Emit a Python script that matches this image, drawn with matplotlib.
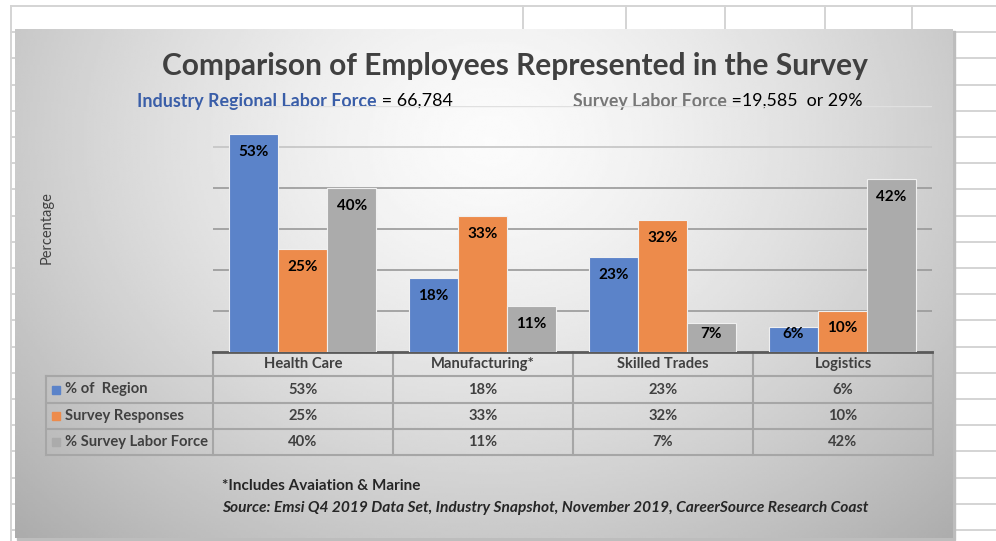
import numpy as np
import matplotlib
matplotlib.use('Agg')
import matplotlib.pyplot as plt
from matplotlib.patches import Rectangle

plt.rcParams['font.family'] = ['Lato', 'DejaVu Sans']

categories = ['Health Care', 'Manufacturing*', 'Skilled Trades', 'Logistics']
series_names = ['% of  Region', 'Survey Responses', '% Survey Labor Force']
pct_region = [53, 18, 23, 6]
survey_responses = [25, 33, 32, 10]
pct_survey_labor = [40, 11, 7, 42]
series_colors = ['#5b83c9', '#ed8b4b', '#ababab']

title = 'Comparison of Employees Represented in the Survey'
sub1_bold, sub1_rest = 'Industry Regional Labor Force', ' = 66,784'
sub2_bold, sub2_rest = 'Survey Labor Force', ' =19,585  or 29%'
note = '*Includes Avaiation & Marine'
source = 'Source: Emsi Q4 2019 Data Set, Industry Snapshot, November 2019, CareerSource Research Coast'

W, H = 996, 541
fig = plt.figure(figsize=(W / 100, H / 100), dpi=100)
bg = fig.add_axes([0, 0, 1, 1])
bg.axis('off')

# spreadsheet grid behind the chart
grid_c = '#d4d4d4'
for y in np.arange(6, H, 26.2):
    bg.plot([11, W], [y, y], color=grid_c, lw=1.4, zorder=0)
for x in [11, 523, 626, 725, 825, 912]:
    bg.plot([x, x], [6, H], color=grid_c, lw=1.4, zorder=0)

# chart area with radial grey gradient
x0, x1, y0, y1 = 15, 953, 29, 538
bg.add_patch(Rectangle((x0 + 2, y0 + 2), x1 - x0, y1 - y0, color='#bdbdbd', zorder=1))
xx, yy = np.meshgrid(np.linspace(x0, x1, 400), np.linspace(y0, y1, 220))
r = np.sqrt(((xx - 490) / 560) ** 2 + ((yy - 140) / 460) ** 2)
shade = 0.985 - 0.24 * np.clip(r, 0, 1.3) ** 1.4
bg.imshow(shade, cmap='gray', vmin=0, vmax=1, extent=(x0, x1, y1, y0),
          aspect='auto', interpolation='bilinear', zorder=2)
bg.set_xlim(0, W)
bg.set_ylim(H, 0)

# titles
dark = '#404040'
bg.text(515, 66, title, ha='center', va='center', fontsize=21.5,
        fontweight='bold', color=dark, zorder=5)
t1 = bg.text(137, 101, sub1_bold, ha='left', va='center', fontsize=12.9,
             fontweight='bold', color='#3a5ea8', zorder=5)
bg.annotate(sub1_rest, xy=(1, 0.5), xycoords=t1, ha='left', va='center',
            fontsize=12.9, color='black', zorder=5)
t2 = bg.text(573, 101, sub2_bold, ha='left', va='center', fontsize=12.8,
             fontweight='bold', color='#777777', zorder=5)
bg.annotate(sub2_rest, xy=(1, 0.5), xycoords=t2, ha='left', va='center',
            fontsize=12.8, color='black', zorder=5)

bg.text(47, 228, 'Percentage', rotation=90, ha='center', va='center',
        fontsize=10.5, color=dark, zorder=5)

# plot area
left, right, base, top = 213, 932, 351.5, 105.5
ax = fig.add_axes([left / W, 1 - base / H, (right - left) / W, (base - top) / H])
ax.set_xlim(-0.5, 3.5)
ax.set_ylim(0, 60)
ax.patch.set_alpha(0)
for s in ax.spines.values():
    s.set_visible(False)
ax.set_xticks([])
ax.set_yticks([])
ax.axhline(60, color='#e0e0e0', lw=1, zorder=1)
for g in [10, 20, 30, 40, 50]:
    ax.axhline(g, color='#999999' if g < 50 else '#c4c4c4', lw=1.2, zorder=1)

px_per_unit = (base - top) / 60
w = 49 / 180
xpos = np.arange(len(categories))
series = [pct_region, survey_responses, pct_survey_labor]
for j, (vals, col) in enumerate(zip(series, series_colors)):
    bars = ax.bar(xpos + (j - 1) * w, vals, width=w, color=col,
                  edgecolor='#f0f0f0', linewidth=0.8, zorder=2)
    for b, v in zip(bars, vals):
        off = -min(18, v * px_per_unit - 17)
        ax.annotate(f'{v}%', (b.get_x() + b.get_width() / 2, v), xytext=(0, off),
                    textcoords='offset pixels', ha='center', va='center',
                    fontsize=11, fontweight='bold', color='black', zorder=3)

# data table
line_c = '#a6a6a6'
cols = [left + 180 * i for i in range(len(categories) + 1)]
rows = [352, 376, 403, 429, 455]
for y in rows[1:]:
    bg.plot([46, right], [y, y], color=line_c, lw=1.5, zorder=4)
bg.plot([46, 46], [rows[1], rows[-1]], color=line_c, lw=1.5, zorder=4)
for x in cols:
    bg.plot([x, x], [rows[0], rows[-1]], color=line_c, lw=1.5, zorder=4)
bg.plot([left, right], [rows[0], rows[0]], color='#5a5a5a', lw=2, zorder=4)

fs_tab = 10.6
for i, cat in enumerate(categories):
    cx = (cols[i] + cols[i + 1]) / 2
    bg.text(cx, (rows[0] + rows[1]) / 2, cat, ha='center', va='center',
            fontsize=fs_tab, fontweight='bold', color=dark, zorder=5)
for k, (name, vals, col) in enumerate(zip(series_names, series, series_colors)):
    cy = (rows[k + 1] + rows[k + 2]) / 2
    bg.add_patch(Rectangle((52, cy - 4), 8, 8, color=col, zorder=5))
    bg.text(65, cy, name, ha='left', va='center', fontsize=fs_tab,
            fontweight='bold', color=dark, zorder=5)
    for i, v in enumerate(vals):
        cx = (cols[i] + cols[i + 1]) / 2
        bg.text(cx, cy, f'{v}%', ha='center', va='center', fontsize=fs_tab,
                fontweight='bold', color=dark, zorder=5)

bg.text(222, 486, note, ha='left', va='center', fontsize=11,
        fontweight='bold', color='#262626', zorder=5)
bg.text(222, 508, source, ha='left', va='center', fontsize=11.2,
        fontweight='bold', fontstyle='italic', color='#262626', zorder=5)

fig.savefig('out.png', dpi=100)
